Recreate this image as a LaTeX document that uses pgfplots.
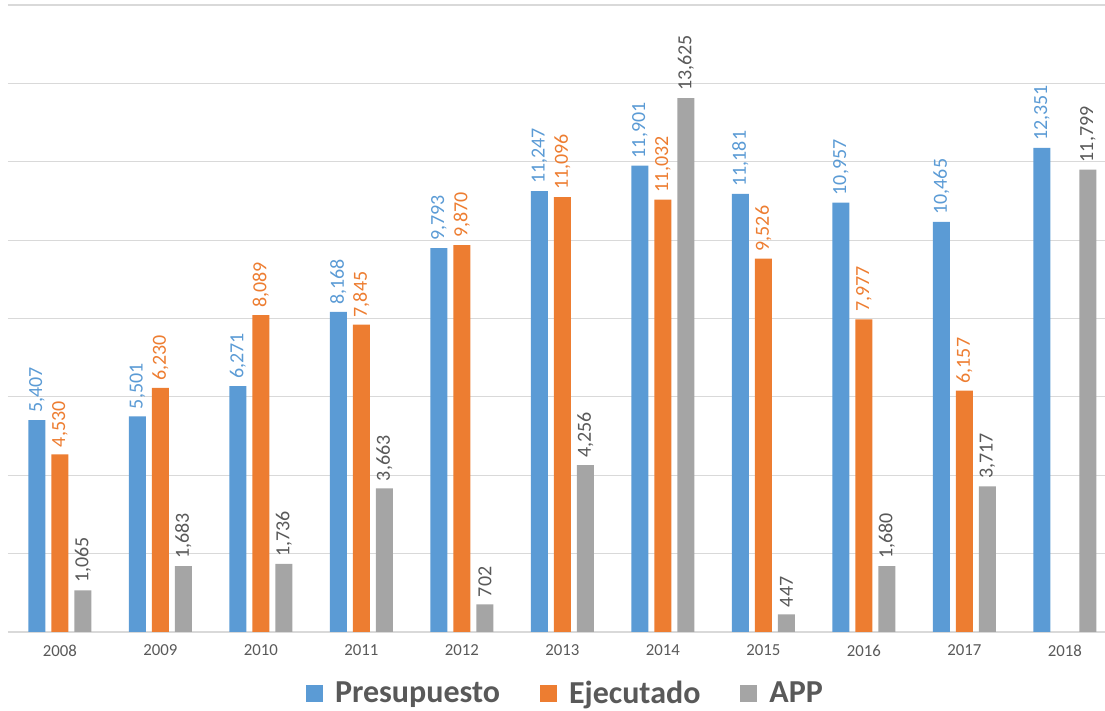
\documentclass[border=0pt]{standalone}
\usepackage{pgfplots}
\pgfplotsset{compat=1.18}
\usepackage{fontspec}
\setmainfont{Carlito}

\definecolor{cblue}{HTML}{5B9BD5}
\definecolor{corange}{HTML}{ED7D31}
\definecolor{cgray}{HTML}{A5A5A5}
\definecolor{ctext}{HTML}{595959}
\definecolor{cgrid}{HTML}{D9D9D9}

\begin{document}
\begin{tikzpicture}
\useasboundingbox (0,0) rectangle (552.5pt,355.5pt);
\begin{axis}[
    at={(4pt,39.5pt)}, anchor=south west,
    scale only axis,
    width=548.5pt, height=313.5pt,
    ybar=3pt, bar width=8.5pt,
    xmin=-0.517, xmax=10.4,
    ymin=0, ymax=16000,
    ytick={0,2000,...,16000},
    yticklabel=\empty,
    ymajorgrids, grid style={cgrid, line width=0.6pt},
    xtick={0,...,10},
    xticklabels={2008,2009,2010,2011,2012,2013,2014,2015,2016,2017,2018},
    xticklabel style={font=\fontsize{8.4}{10}\selectfont, text=ctext, yshift=-3pt},
    major tick length=0pt,
    axis line style={draw=none},
    /pgf/number format/.cd, 1000 sep={,}, assume math mode=true, /pgfplots/.cd,
    nodes near coords,
    every node near coord/.append style={font=\fontsize{10}{12}\selectfont,
        rotate=90, anchor=west, inner xsep=3.5pt, inner ysep=0pt},
    legend columns=-1,
    legend style={draw=none, at={(0.5,0)}, anchor=center, yshift=-31pt, xshift=5pt,
        font=\fontsize{16}{19}\selectfont\bfseries, text=ctext,
        /tikz/every odd column/.append style={column sep=4pt},
        /tikz/every even column/.append style={column sep=18pt}},
    legend image code/.code={\fill[#1] (0pt,-4pt) rectangle (8.5pt,4.5pt);},
]
\addplot[fill=cblue, draw=none, every node near coord/.append style={text=cblue}] coordinates {
    (0,5407) (1,5501) (2,6271) (3,8168) (4,9793) (5,11247)
    (6,11901) (7,11181) (8,10957) (9,10465) (10,12351)};
\addplot[fill=corange, draw=none, every node near coord/.append style={text=corange}] coordinates {
    (0,4530) (1,6230) (2,8089) (3,7845) (4,9870) (5,11096)
    (6,11032) (7,9526) (8,7977) (9,6157)};
\addplot[fill=cgray, draw=none, every node near coord/.append style={text=ctext}] coordinates {
    (0,1065) (1,1683) (2,1736) (3,3663) (4,702) (5,4256)
    (6,13625) (7,447) (8,1680) (9,3717) (10,11799)};
\legend{Presupuesto, Ejecutado, APP}
\end{axis}
\end{tikzpicture}
\end{document}
